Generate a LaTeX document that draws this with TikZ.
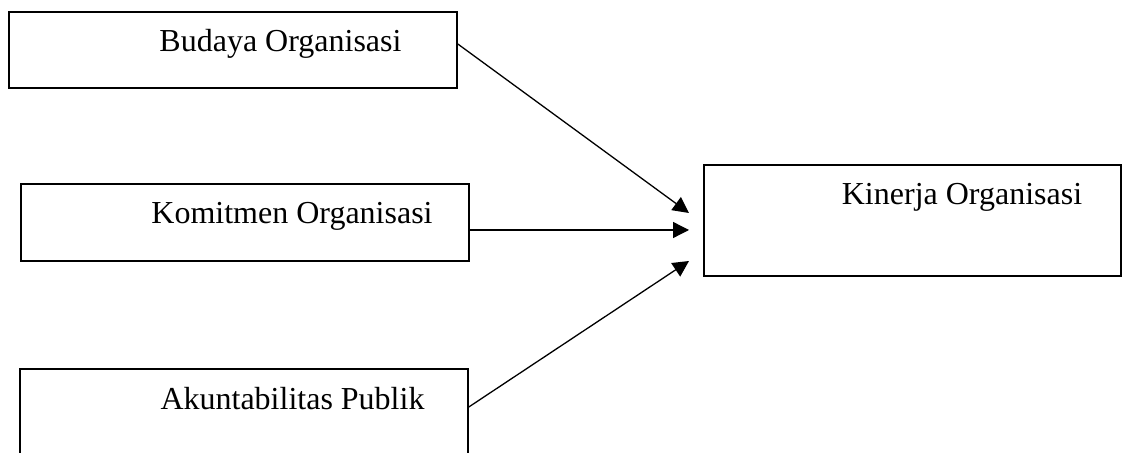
\documentclass[tikz,border=0pt]{standalone}
\usepackage{fontspec}
\setmainfont{Liberation Serif}
\usetikzlibrary{arrows.meta}
\tikzset{
  kotak/.style={draw, line width=0.8pt, inner sep=0pt},
  teks/.style={font=\fontsize{16}{19}\selectfont, inner sep=0pt, anchor=base},
  panah/.style={line width=0.65pt, -{Triangle[length=8pt,width=8pt]}}
}
\begin{document}
\begin{tikzpicture}[x=0.5pt,y=-0.5pt]
    \useasboundingbox (0,0) rectangle (1124,453);
    \node[kotak, minimum width=224pt, minimum height=38pt] (budaya) at (233,50) {};
    \node[kotak, minimum width=224pt, minimum height=38.5pt] (komitmen) at (245,222.5) {};
    \node[kotak, minimum width=224pt, minimum height=44pt] (akuntabilitas) at (244,413) {};
    \node[kotak, minimum width=208.5pt, minimum height=55.5pt] (kinerja) at (912.5,220.5) {};
    \node[teks] (tbudaya) at (280.5,52) {Budaya Organisasi};
    \node[teks] (tkomitmen) at (292,224) {Komitmen Organisasi};
    \node[teks] (takuntabilitas) at (292.5,410) {Akuntabilitas Publik};
    \node[teks] (tkinerja) at (962,205) {Kinerja Organisasi};
    \coordinate (k1) at (689,213); \coordinate (k2) at (689,230);
    \coordinate (k3) at (689,261);
    \draw[panah] ([yshift=3pt]budaya.east) -- (k1);
    \draw[panah] ([yshift=-3.75pt]komitmen.east) -- (k2);
    \draw[panah] ([yshift=3pt]akuntabilitas.east) -- (k3);
  \end{tikzpicture}
\end{document}
